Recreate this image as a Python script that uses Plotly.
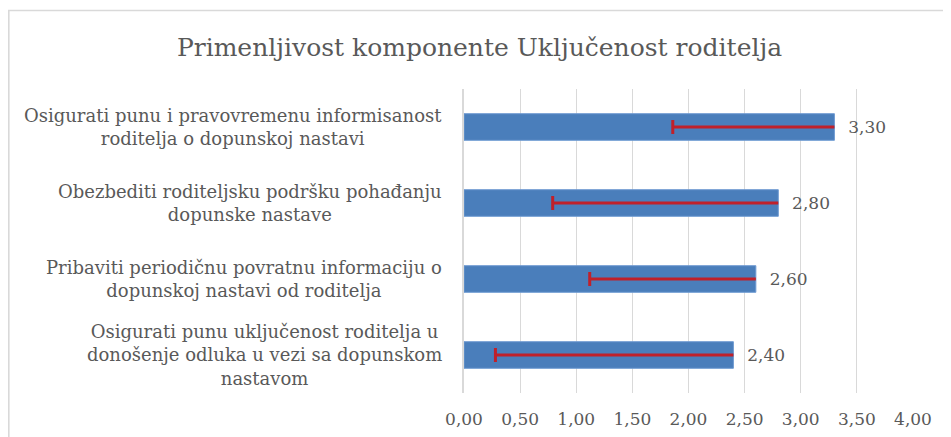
import plotly.graph_objects as go

# data (top to bottom)
categories = [
    "Osigurati punu i pravovremenu informisanost<br>roditelja o dopunskoj nastavi",
    "Obezbediti roditeljsku podršku pohađanju<br>dopunske nastave",
    "Pribaviti periodičnu povratnu informaciju o<br>dopunskoj nastavi od roditelja",
    "Osigurati punu uključenost roditelja u<br>donošenje odluka u vezi sa dopunskom<br>nastavom",
]
means = [3.30, 2.80, 2.60, 2.40]
err_minus = [1.44, 2.01, 1.48, 2.12]

TEXT = "#595959"
BAR = "#4A7EBB"
ERR = "#C0202A"
FONT = "DejaVu Serif"

# the page puts the plot 8px in from the window corner
W, H = 943, 429
L, R, T, B = 456, 38, 81, 44

fig = go.Figure()
fig.add_trace(go.Bar(
    x=means, y=categories, orientation="h",
    marker=dict(color=BAR, line=dict(color="#6F9BD2", width=1)),
    width=0.35,
    error_x=dict(type="data", symmetric=False, array=[0] * len(means),
                 arrayminus=err_minus, color=ERR, thickness=3, width=0),
    texttemplate="  %{x:.2f}", textposition="outside",
    textfont=dict(family=FONT, size=17, color=TEXT),
    cliponaxis=False, hoverinfo="skip",
))
# caps at the lower end of the error bars
fig.add_trace(go.Scatter(
    x=[m - e for m, e in zip(means, err_minus)], y=categories,
    mode="markers",
    marker=dict(symbol="line-ns", size=10, line=dict(color=ERR, width=3)),
    hoverinfo="skip",
))

for cat in categories:
    fig.add_annotation(
        x=0, xref="paper", y=cat, yref="y", text=cat,
        xanchor="right", yanchor="middle", align="center", xshift=-20,
        showarrow=False, font=dict(family=FONT, size=18, color=TEXT),
    )

# light chart frame (open on the right and bottom)
pw, ph = W - L - R, H - T - B
fig.add_shape(type="rect", xref="paper", yref="paper",
              x0=(0.8 - L) / pw, x1=1.2, y0=-0.3, y1=(ph + T - 2.5) / ph,
              line=dict(color="#D9D9D9", width=1.6), layer="below")

fig.update_layout(
    title=dict(text="Primenljivost komponente Uključenost roditelja",
               x=0.5, xref="container", y=1 - 39 / H, yref="container",
               yanchor="middle", xanchor="center",
               font=dict(family=FONT, size=25, color=TEXT)),
    width=W, height=H,
    margin=dict(l=L, r=R, t=T, b=B),
    paper_bgcolor="white", plot_bgcolor="white",
    separators=",.",
    showlegend=False,
    xaxis=dict(range=[0, 4], dtick=0.5, tickformat=".2f",
               showgrid=True, gridcolor="#D9D9D9", gridwidth=1,
               zeroline=False, showline=False, ticks="",
               ticklabelstandoff=14, automargin=False,
               tickfont=dict(family=FONT, size=17, color=TEXT)),
    yaxis=dict(autorange="reversed", showticklabels=False, showgrid=False,
               showline=True, linecolor="#D9D9D9", linewidth=1.5,
               zeroline=False, ticks="", automargin=False),
)

fig.write_html("out.html")
